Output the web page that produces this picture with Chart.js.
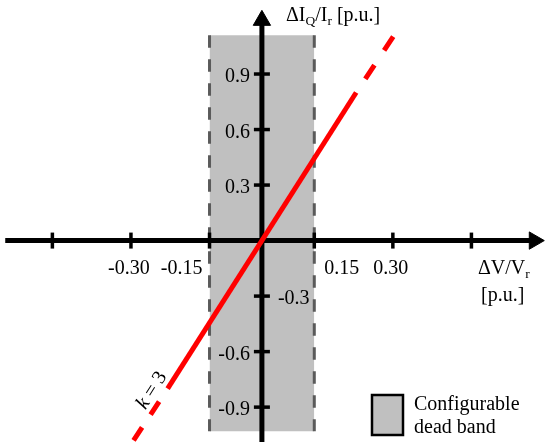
<!DOCTYPE html>
<html>
<head>
<meta charset="utf-8">
<script src="https://cdn.jsdelivr.net/npm/chart.js@4.4.1/dist/chart.umd.min.js"></script>
<style>
  html, body { margin: 0; padding: 0; background: #fff; }
  #wrap { width: 550px; height: 446px; }
</style>
</head>
<body>
<div id="wrap"><canvas id="myChart" width="550" height="446"></canvas></div>
<script>
// x axis: schematic tick positions and their printed labels
const xTickValues = [-0.40, -0.25, -0.10, 0.10, 0.25, 0.40];
const xTickLabels = ["", "-0.30", "-0.15", "0.15", "0.30", ""];
// y axis ticks
const yTickValues = [0.9, 0.6, 0.3, -0.3, -0.6, -0.9];
const yTickLabels = ["0.9", "0.6", "0.3", "-0.3", "-0.6", "-0.9"];

// configurable dead band
const bandX = [-0.10, 0.10];
const bandY = [-1.03, 1.11];

// k = 3 line: solid part and dashed continuations
const lineX = [-0.18, 0.18];
const lineY = [-0.80, 0.80];
const upperDashX = [0.18, 0.255];
const upperDashY = [0.80, 1.12];
const lowerDashX = [-0.18, -0.245];
const lowerDashY = [-0.80, -1.08];

// axes extents (arrow heads sit at the ends)
const xAxisEnds = [-0.49, 0.52];
const yAxisEnds = [-1.088, 1.19];

// where the "k = 3" note sits
const kLabelAt = {x: -0.21, y: -0.81};

const pts = (xs, ys) => xs.map((v, i) => ({x: v, y: ys[i]}));

const textPlugin = {
  id: 'textPlugin',
  afterDatasetsDraw(chart) {
    const ctx = chart.ctx;
    const xs = chart.scales.x, ys = chart.scales.y;
    const ox = xs.getPixelForValue(0), oy = ys.getPixelForValue(0);
    const serif = '"Liberation Serif", "Times New Roman", serif';
    const big = '20px ';
    ctx.save();
    ctx.fillStyle = '#000';
    ctx.font = big + serif;
    ctx.textBaseline = 'alphabetic';

    // x tick labels
    xTickValues.forEach((v, i) => {
      const label = xTickLabels[i];
      if (!label) return;
      const px = xs.getPixelForValue(v);
      if (v < 0 && v > -0.2) {
        ctx.textAlign = 'right';
        ctx.fillText(label, px - 7, oy + 33);
      } else if (v > 0 && v < 0.2) {
        ctx.textAlign = 'left';
        ctx.fillText(label, px + 10, oy + 33);
      } else {
        ctx.textAlign = 'center';
        ctx.fillText(label, px - 2, oy + 33);
      }
    });

    // y tick labels (-0.3 sits right of the axis)
    yTickValues.forEach((v, i) => {
      const py = ys.getPixelForValue(v);
      if (v === -0.3) {
        ctx.textAlign = 'left';
        ctx.fillText(yTickLabels[i], ox + 16, py + 8);
      } else {
        ctx.textAlign = 'right';
        ctx.fillText(yTickLabels[i], ox - 12, py + 8);
      }
    });

    // axis titles with subscripts
    const drawRuns = (runs, x0, base) => {
      let x = x0;
      ctx.textAlign = 'left';
      runs.forEach(r => {
        ctx.font = (r.sub ? '13.5px ' : big) + serif;
        ctx.fillText(r.t, x, base + (r.sub ? 4 : 0));
        x += ctx.measureText(r.t).width;
      });
    };
    drawRuns([{t: '\u0394V/V'}, {t: 'r', sub: true}], 478, oy + 33);
    drawRuns([{t: '[p.u.]'}], 481, oy + 60);
    drawRuns([{t: '\u0394I'}, {t: 'Q', sub: true}, {t: '/I'}, {t: 'r', sub: true}, {t: ' [p.u.]'}], ox + 24, 21);

    // k = 3 along the line
    const p1x = xs.getPixelForValue(lineX[0]), p1y = ys.getPixelForValue(lineY[0]);
    const p2x = xs.getPixelForValue(lineX[1]), p2y = ys.getPixelForValue(lineY[1]);
    const ang = Math.atan2(p2y - p1y, p2x - p1x);
    ctx.translate(xs.getPixelForValue(kLabelAt.x), ys.getPixelForValue(kLabelAt.y));
    ctx.rotate(ang);
    ctx.font = 'italic ' + big + serif;
    const wk = ctx.measureText('k').width;
    ctx.font = big + serif;
    const wr = ctx.measureText(' = 3').width;
    const start = -(wk + wr) / 2;
    ctx.textBaseline = 'middle';
    ctx.textAlign = 'left';
    ctx.font = 'italic ' + big + serif;
    ctx.fillText('k', start, 0);
    ctx.font = big + serif;
    ctx.fillText(' = 3', start + wk, 0);
    ctx.setTransform(1, 0, 0, 1, 0, 0);

    // legend box
    ctx.fillStyle = '#c0c0c0';
    ctx.fillRect(372, 395, 31, 40);
    ctx.strokeStyle = '#000';
    ctx.lineWidth = 2.5;
    ctx.strokeRect(372, 395, 31, 40);
    ctx.fillStyle = '#000';
    ctx.textBaseline = 'alphabetic';
    ctx.font = big + serif;
    ctx.fillText('Configurable', 414, 410);
    ctx.fillText('dead band', 414, 433);
    ctx.restore();
  }
};

new Chart("myChart", {
  type: "line",
  data: {
    datasets: [
      {
        // dead band fill
        data: pts(bandX, [bandY[1], bandY[1]]),
        fill: {value: bandY[0]},
        backgroundColor: "#c0c0c0",
        borderWidth: 0,
        pointRadius: 0,
        order: 10
      },
      {
        data: pts([bandX[0], bandX[0]], [bandY[1], bandY[0]]),
        borderColor: "#5a5a5a",
        borderWidth: 3,
        borderDash: [12.5, 11.5],
        pointRadius: 0,
        order: 9
      },
      {
        data: pts([bandX[1], bandX[1]], [bandY[1], bandY[0]]),
        borderColor: "#5a5a5a",
        borderWidth: 3,
        borderDash: [12.5, 11.5],
        pointRadius: 0,
        order: 9
      },
      {
        // x axis
        data: pts(xAxisEnds, [0, 0]),
        borderColor: "#000",
        borderWidth: 5,
        pointRadius: 0,
        order: 8
      },
      {
        // y axis
        data: pts([0, 0], yAxisEnds),
        borderColor: "#000",
        borderWidth: 5,
        pointRadius: 0,
        order: 8
      },
      {
        // x ticks
        data: xTickValues.map(v => ({x: v, y: 0})),
        showLine: false,
        pointStyle: "line",
        pointRotation: 90,
        pointRadius: 8,
        pointBorderWidth: 3.5,
        pointBorderColor: "#000",
        order: 7
      },
      {
        // y ticks
        data: yTickValues.map(v => ({x: 0, y: v})),
        showLine: false,
        pointStyle: "line",
        pointRotation: 0,
        pointRadius: 8,
        pointBorderWidth: 3.5,
        pointBorderColor: "#000",
        order: 7
      },
      {
        // arrow heads
        data: [{x: xAxisEnds[1], y: 0}],
        showLine: false,
        pointStyle: "triangle",
        pointRotation: 90,
        pointRadius: 10,
        pointBorderWidth: 1,
        pointBackgroundColor: "#000",
        pointBorderColor: "#000",
        order: 6
      },
      {
        data: [{x: 0, y: yAxisEnds[1]}],
        showLine: false,
        pointStyle: "triangle",
        pointRotation: 0,
        pointRadius: 10,
        pointBorderWidth: 1,
        pointBackgroundColor: "#000",
        pointBorderColor: "#000",
        order: 6
      },
      {
        // k = 3 line
        data: pts(lineX, lineY),
        borderColor: "#ff0000",
        borderWidth: 5,
        pointRadius: 0,
        order: 5
      },
      {
        data: pts(upperDashX, upperDashY),
        borderColor: "#ff0000",
        borderWidth: 5,
        borderDash: [16.5, 17.5],
        borderDashOffset: 17.5,
        pointRadius: 0,
        order: 5
      },
      {
        data: pts(lowerDashX, lowerDashY),
        borderColor: "#ff0000",
        borderWidth: 5,
        borderDash: [15.5, 15.5],
        borderDashOffset: 15.5,
        pointRadius: 0,
        order: 5
      }
    ]
  },
  options: {
    responsive: false,
    animation: false,
    events: [],
    layout: {padding: 0, autoPadding: false},
    plugins: {legend: {display: false}, tooltip: {enabled: false}},
    scales: {
      x: {type: "linear", min: -0.5, max: 0.55, display: false},
      y: {type: "linear", min: -1.11, max: 1.3, display: false}
    }
  },
  plugins: [textPlugin]
});
</script>
</body>
</html>
